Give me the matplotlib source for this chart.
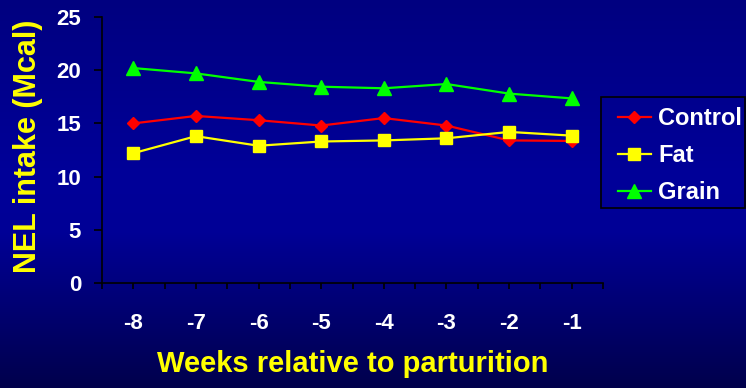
import numpy as np
import matplotlib
matplotlib.use("Agg")
import matplotlib.pyplot as plt
from matplotlib.colors import LinearSegmentedColormap
from matplotlib.patches import Rectangle

weeks = [-8, -7, -6, -5, -4, -3, -2, -1]
week_labels = ["-8", "-7", "-6", "-5", "-4", "-3", "-2", "-1"]
control = [15.0, 15.7, 15.3, 14.8, 15.5, 14.8, 13.4, 13.35]
fat = [12.2, 13.8, 12.9, 13.3, 13.4, 13.6, 14.2, 13.85]
grain = [20.2, 19.7, 18.9, 18.45, 18.3, 18.7, 17.8, 17.35]
series_names = ["Control", "Fat", "Grain"]
y_ticks = [0, 5, 10, 15, 20, 25]

plt.rcParams['font.family'] = ['Liberation Sans', 'DejaVu Sans']
plt.rcParams['font.weight'] = 'bold'

W, H = 746, 388
fig = plt.figure(figsize=(W / 100, H / 100), dpi=100)

# gradient background
bg = fig.add_axes([0, 0, 1, 1], zorder=-10)
cmap = LinearSegmentedColormap.from_list(
    "bg", [(0.0, "#000080"), (0.45, "#000099"), (0.6, "#000096"), (1.0, "#00004c")])
grad = np.linspace(0, 1, 256).reshape(-1, 1)
bg.imshow(grad, aspect="auto", cmap=cmap, extent=[0, 1, 0, 1], origin="upper")
bg.set_axis_off()

ax = fig.add_axes([102 / W, 1 - 283 / H, (603 - 102) / W, (283 - 17) / H])
ax.patch.set_alpha(0)

lw = 1.6
ax.plot(weeks, control, color="#ff0000", lw=lw, marker="D", ms=6.5,
        mec="#ff0000", mfc="#ff0000", label=series_names[0], zorder=3)
ax.plot(weeks, fat, color="#ffff00", lw=lw, marker="s", ms=8.5,
        mec="#ffff00", mfc="#ffff00", label=series_names[1], zorder=4)
ax.plot(weeks, grain, color="#00ff00", lw=lw, marker="^", ms=9.5,
        mec="#00ff00", mfc="#00ff00", label=series_names[2], zorder=3)

ax.set_xlim(-8.5, -0.5)
ax.set_ylim(0, 25)
ax.set_yticks(y_ticks)
ax.set_yticklabels([str(t) for t in y_ticks])
ax.set_xticks(weeks)
ax.set_xticklabels(week_labels)
ax.set_xticks(np.arange(-8.5, 0, 1.0), minor=True)

for s in ["top", "right"]:
    ax.spines[s].set_visible(False)
for s in ["left", "bottom"]:
    ax.spines[s].set_color("black")
    ax.spines[s].set_linewidth(1.2)

ax.tick_params(axis="y", which="major", length=6, width=1.2, color="black",
               labelcolor="white", labelsize=16, pad=9)
ax.tick_params(axis="x", which="both", length=4.5, width=1.2, color="black",
               labelcolor="white", labelsize=16, pad=17)

fig.text(28 / W, 1 - 146 / H, "NEL intake (Mcal)", rotation=90, ha="center",
         va="center", color="#ffff00", fontsize=22, fontweight="bold")
fig.text(353 / W, 1 - 364 / H, "Weeks relative to parturition", ha="center",
         va="center", color="#ffff00", fontsize=21, fontweight="bold")

# legend box
fig.patches.append(Rectangle((601 / W, 1 - 208 / H), (745 - 601) / W, (208 - 97) / H,
                             transform=fig.transFigure, facecolor="none",
                             edgecolor="black", lw=1.2, zorder=5))
leg = fig.legend(loc="upper left", bbox_to_anchor=(599 / W, 1 - 88 / H),
                 frameon=False, fontsize=17, handlelength=1.4, handletextpad=0.3,
                 labelspacing=0.6, borderpad=0.3, labelcolor="white")

fig.savefig("out.png", dpi=100)
